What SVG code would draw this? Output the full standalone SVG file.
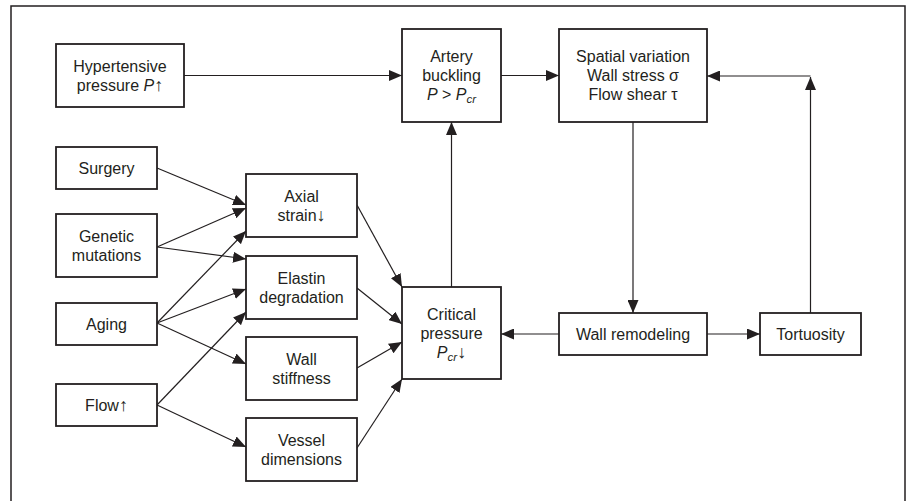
<svg xmlns="http://www.w3.org/2000/svg" width="909" height="501" viewBox="0 0 909 501">
<defs>
<marker id="ah" markerWidth="13" markerHeight="11" refX="13" refY="5.5" orient="auto" markerUnits="userSpaceOnUse">
<path d="M0,0 L13,5.5 L0,11 z" fill="#231f20"/>
</marker>
<style>
.box{fill:#fff;stroke:#231f20;stroke-width:1.8}
.t{font-family:"Liberation Sans",Arial,sans-serif;font-size:16px;fill:#231f20;text-anchor:middle}
.i{font-style:italic}
.sub{font-style:italic;font-size:11.5px}
.ar{font-size:18px}
.c line{stroke:#231f20;stroke-width:1.2;fill:none;marker-end:url(#ah)}
</style>
</defs>
<rect width="909" height="501" fill="#fff"/>
<path d="M11,510 V6 H905 V510" fill="none" stroke="#231f20" stroke-width="1.5"/>

<g class="c" id="connectors">
<line x1="184" y1="75.5" x2="402" y2="75.5"/>
<line x1="501" y1="75.5" x2="559" y2="75.5"/>
<line x1="810.5" y1="313" x2="810.5" y2="77"/>
<line x1="810.5" y1="76" x2="707" y2="76"/>
<line x1="451.5" y1="287" x2="451.5" y2="122"/>
<line x1="633" y1="122" x2="633" y2="313"/>
<line x1="559" y1="334" x2="501" y2="334"/>
<line x1="707" y1="334" x2="760" y2="334"/>
<line x1="157" y1="168" x2="246" y2="205"/>
<line x1="157" y1="247" x2="246" y2="208"/>
<line x1="157" y1="247" x2="246" y2="259"/>
<line x1="157" y1="323" x2="246" y2="231"/>
<line x1="157" y1="323" x2="246" y2="289"/>
<line x1="157" y1="323" x2="246" y2="364"/>
<line x1="157" y1="405" x2="246" y2="312"/>
<line x1="157" y1="405" x2="246" y2="447"/>
<line x1="357" y1="205" x2="402" y2="287"/>
<line x1="357" y1="288" x2="402" y2="324"/>
<line x1="357" y1="368" x2="402" y2="342"/>
<line x1="357" y1="448" x2="402" y2="379"/>
</g>

<g id="hypertensive">
<rect class="box" x="56" y="44" width="128" height="63"/>
<text class="t" x="120" y="71.75">Hypertensive</text>
<text class="t" x="120" y="90.75">pressure <tspan class="i">P</tspan><tspan class="ar">↑</tspan></text>
</g>
<g id="artery">
<rect class="box" x="402" y="29" width="99" height="93"/>
<text class="t" x="451.5" y="62.25">Artery</text>
<text class="t" x="451.5" y="81.25">buckling</text>
<text class="t" x="451.5" y="100.25"><tspan class="i">P</tspan> &gt; <tspan class="i">P</tspan><tspan class="sub" dy="3">cr</tspan></text>
</g>
<g id="spatial">
<rect class="box" x="559" y="29" width="148" height="93"/>
<text class="t" x="633" y="62.25">Spatial variation</text>
<text class="t" x="633" y="81.25">Wall stress σ</text>
<text class="t" x="633" y="100.25">Flow shear τ</text>
</g>
<g id="surgery">
<rect class="box" x="56" y="147" width="101" height="42"/>
<text class="t" x="106.5" y="173.75">Surgery</text>
</g>
<g id="genetic">
<rect class="box" x="56" y="214" width="101" height="63"/>
<text class="t" x="106.5" y="241.75">Genetic</text>
<text class="t" x="106.5" y="260.75">mutations</text>
</g>
<g id="aging">
<rect class="box" x="56" y="303" width="101" height="42"/>
<text class="t" x="106.5" y="329.75">Aging</text>
</g>
<g id="flow">
<rect class="box" x="56" y="384" width="101" height="42"/>
<text class="t" x="106.5" y="410.75">Flow<tspan class="ar">↑</tspan></text>
</g>
<g id="axial">
<rect class="box" x="246" y="174" width="111" height="63"/>
<text class="t" x="301.5" y="201.75">Axial</text>
<text class="t" x="301.5" y="220.75">strain<tspan class="ar">↓</tspan></text>
</g>
<g id="elastin">
<rect class="box" x="246" y="256" width="111" height="63"/>
<text class="t" x="301.5" y="283.75">Elastin</text>
<text class="t" x="301.5" y="302.75">degradation</text>
</g>
<g id="wallstiffness">
<rect class="box" x="246" y="337" width="111" height="63"/>
<text class="t" x="301.5" y="364.75">Wall</text>
<text class="t" x="301.5" y="383.75">stiffness</text>
</g>
<g id="vessel">
<rect class="box" x="246" y="418" width="111" height="63"/>
<text class="t" x="301.5" y="445.75">Vessel</text>
<text class="t" x="301.5" y="464.75">dimensions</text>
</g>
<g id="critical">
<rect class="box" x="402" y="287" width="99" height="92"/>
<text class="t" x="451.5" y="319.75">Critical</text>
<text class="t" x="451.5" y="338.75">pressure</text>
<text class="t" x="451.5" y="357.75"><tspan class="i">P</tspan><tspan class="sub" dy="3">cr</tspan><tspan class="ar" dy="-3">↓</tspan></text>
</g>
<g id="remodeling">
<rect class="box" x="559" y="313" width="148" height="42"/>
<text class="t" x="633" y="339.75">Wall remodeling</text>
</g>
<g id="tortuosity">
<rect class="box" x="760" y="313" width="101" height="42"/>
<text class="t" x="810.5" y="339.75">Tortuosity</text>
</g>
</svg>
